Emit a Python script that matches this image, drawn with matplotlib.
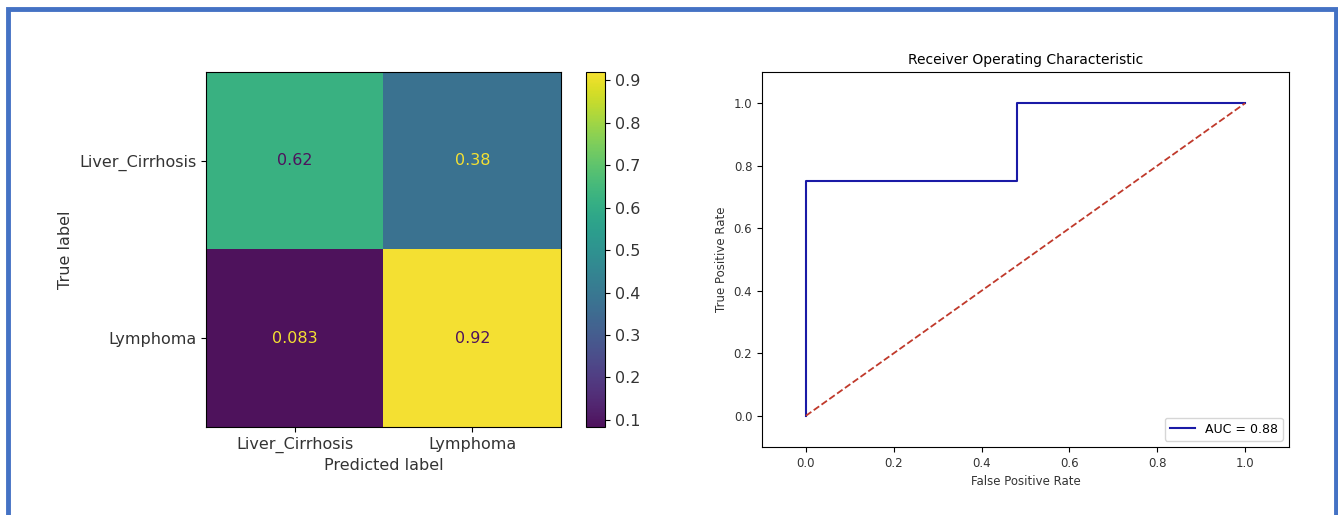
import matplotlib.pyplot as plt
import numpy as np
from matplotlib.colors import ListedColormap
from matplotlib.patches import Rectangle

class_names = ["Liver_Cirrhosis", "Lymphoma"]
cm_values = np.array([[0.62, 0.38], [0.083, 0.92]])
cm_labels = [["0.62", "0.38"], ["0.083", "0.92"]]

fpr = [0.0, 0.0, 0.48, 0.48, 1.0]
tpr = [0.0, 0.75, 0.75, 1.0, 1.0]
auc_value = 0.88

W, H = 1338, 515


def box(x0, y0, x1, y1):
    return [x0 / W, 1 - y1 / H, (x1 - x0) / W, (y1 - y0) / H]


def washed_viridis() -> ListedColormap:
    # the reference is a slightly faded screenshot, so soften viridis a bit
    base = plt.get_cmap("viridis")(np.linspace(0, 1, 256))[:, :3]
    soft = 0.9 * base + 0.1 * (170 / 255)
    return ListedColormap(soft)


def main() -> None:
    fig = plt.figure(figsize=(W / 100, H / 100), dpi=100)
    text_color = "#333333"

    # confusion matrix
    ax_cm = fig.add_axes(box(206, 72, 561, 427))
    cmap = washed_viridis()
    im = ax_cm.imshow(cm_values, cmap=cmap, aspect="auto")
    vmin, vmax = cm_values.min(), cm_values.max()
    thresh = (vmin + vmax) / 2
    for i in range(2):
        for j in range(2):
            color = cmap(0.0) if cm_values[i, j] >= thresh else cmap(1.0)
            ax_cm.text(j, i, cm_labels[i][j], ha="center", va="center",
                       fontsize=11.5, color=color)
    ax_cm.set_xticks(range(2))
    ax_cm.set_yticks(range(2))
    ax_cm.set_xticklabels(class_names, fontsize=11.5, color=text_color)
    ax_cm.set_yticklabels(class_names, fontsize=11.5, color=text_color)
    ax_cm.set_xlabel("Predicted label", fontsize=11.5, color=text_color)
    ax_cm.set_ylabel("True label", fontsize=11.5, color=text_color)

    cax = fig.add_axes(box(586, 72, 605, 427))
    cbar = fig.colorbar(im, cax=cax)
    cbar.set_ticks(np.arange(0.1, 0.91, 0.1))
    cbar.ax.tick_params(labelsize=11.5, labelcolor=text_color)

    # ROC curve
    ax_roc = fig.add_axes(box(762, 72, 1289, 447))
    ax_roc.plot(fpr, tpr, color="#1a1aa6", linewidth=1.5,
                label=f"AUC = {auc_value:.2f}")
    ax_roc.plot([0, 1], [0, 1], linestyle="--", color="#c0392b", linewidth=1.3)
    ax_roc.set_xlim(-0.1, 1.1)
    ax_roc.set_ylim(-0.1, 1.1)
    ax_roc.set_xticks(np.arange(0, 1.01, 0.2))
    ax_roc.set_yticks(np.arange(0, 1.01, 0.2))
    ax_roc.tick_params(labelsize=8.5, labelcolor=text_color)
    ax_roc.set_title("Receiver Operating Characteristic", fontsize=10)
    ax_roc.set_xlabel("False Positive Rate", fontsize=8.5, color=text_color)
    ax_roc.set_ylabel("True Positive Rate", fontsize=8.5, color=text_color)
    ax_roc.legend(loc="lower right", fontsize=9)

    # blue frame around the whole picture
    fig.patches.append(Rectangle((7.5 / W, -0.05), (1335.5 - 7.5) / W, 1 - 8.5 / H + 0.05,
                                 transform=fig.transFigure, fill=False,
                                 edgecolor="#4472c4", linewidth=3.5))

    fig.savefig("out.png", dpi=100)


if __name__ == "__main__":
    main()
